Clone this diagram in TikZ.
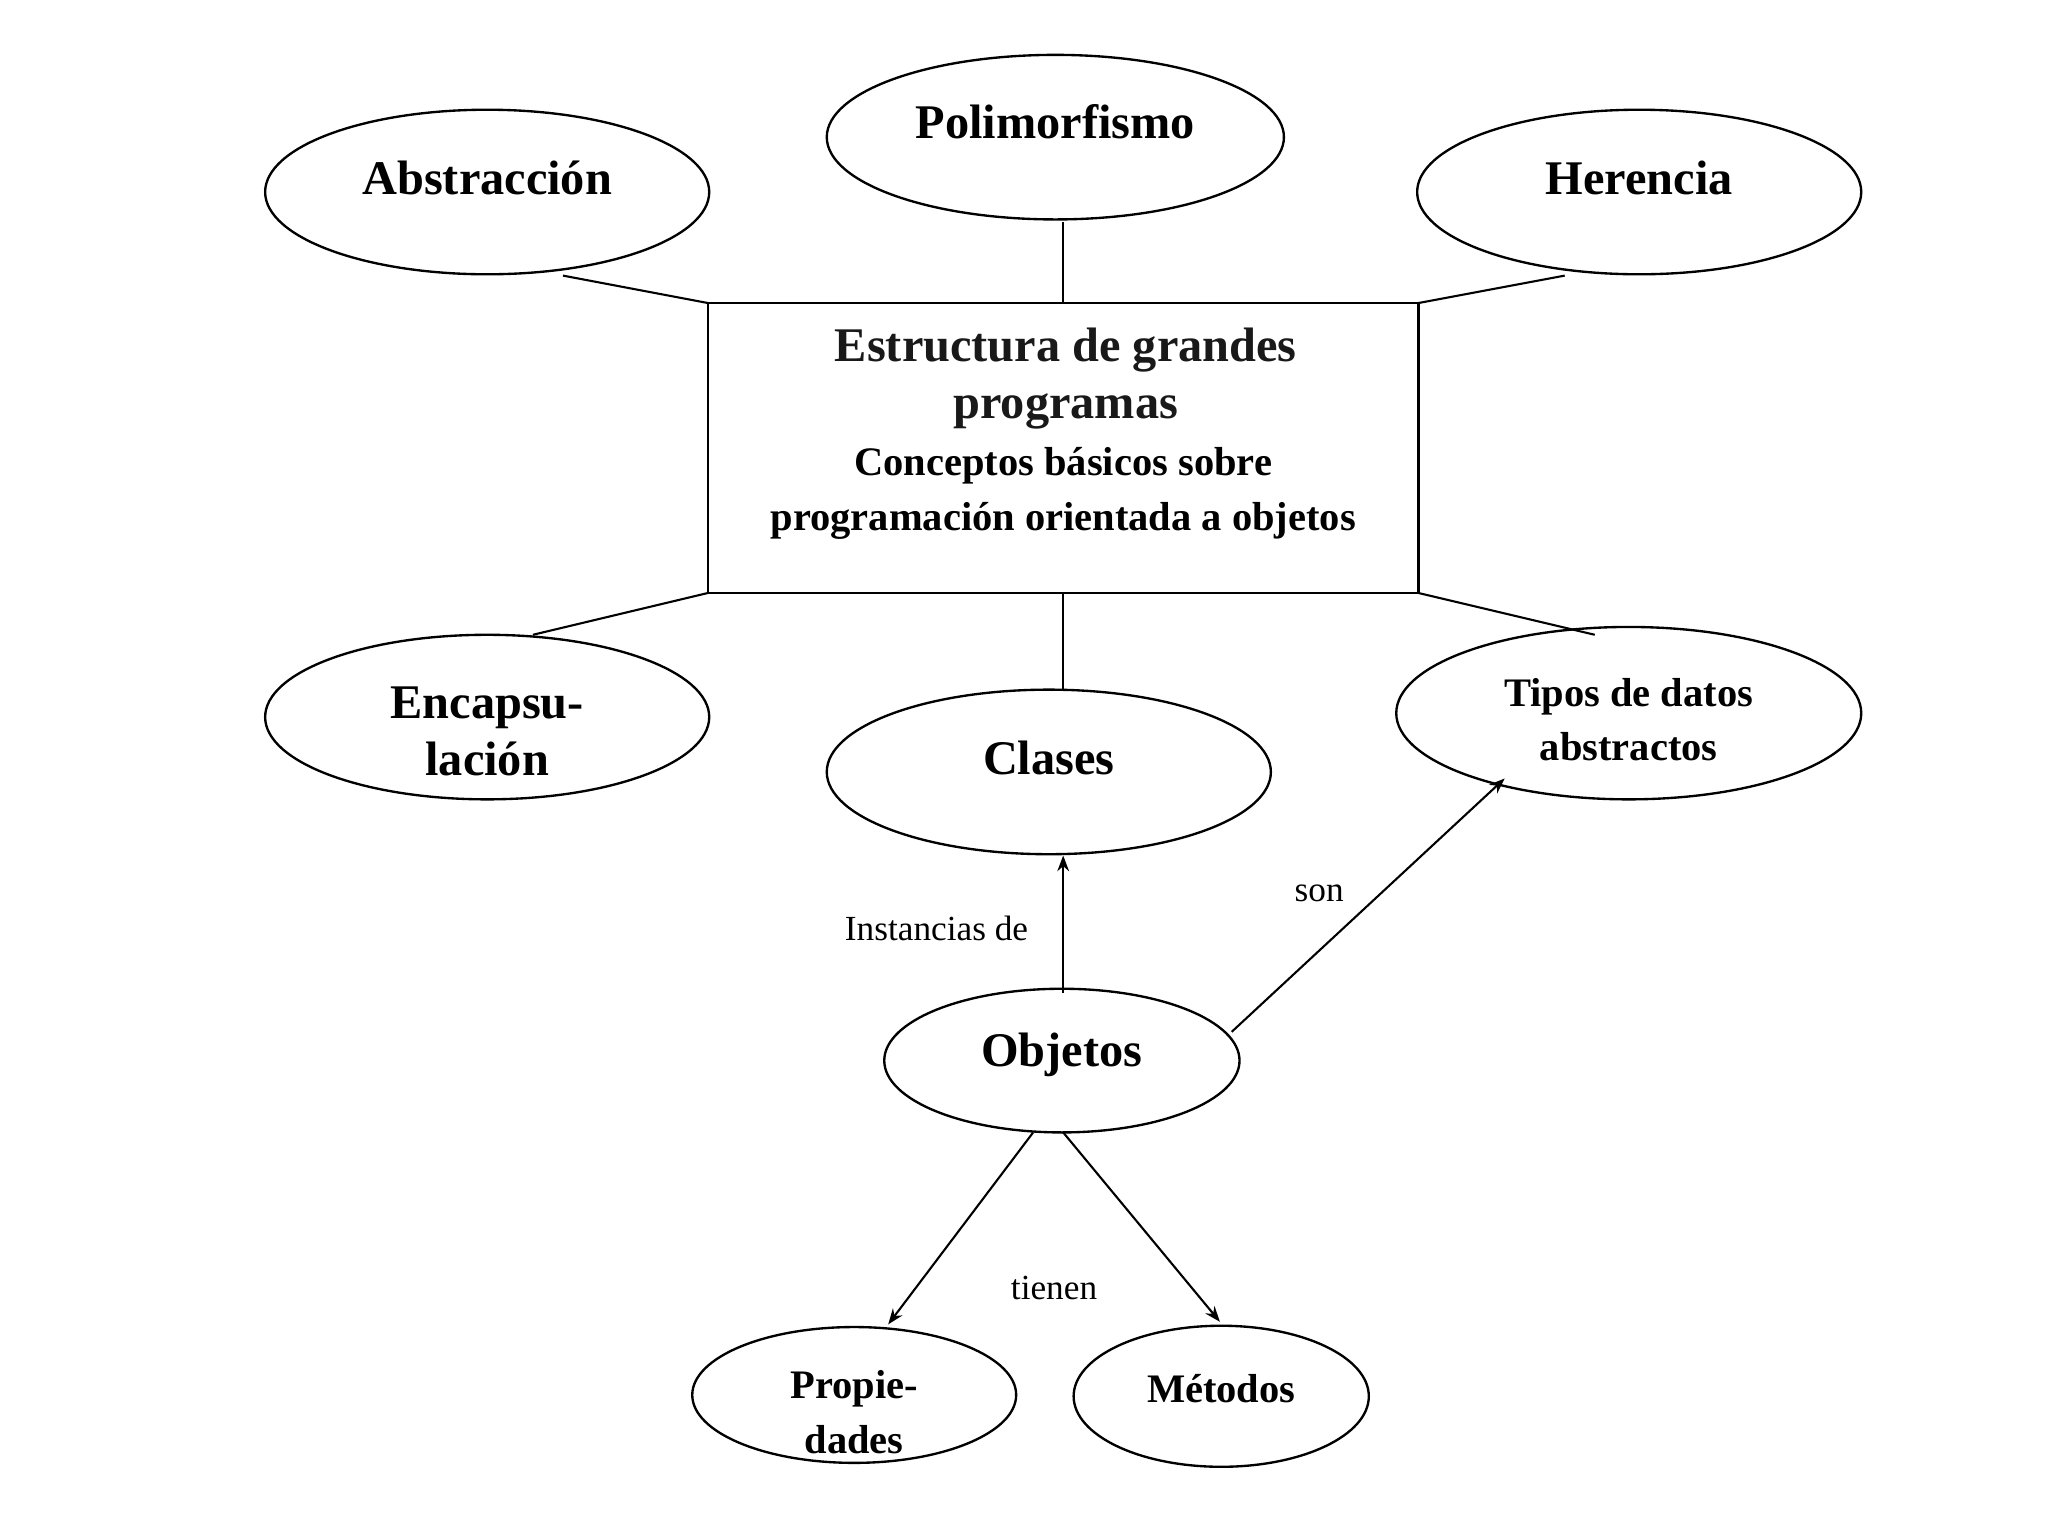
\documentclass[tikz,border=0pt]{standalone}
\usepackage{fontspec}
\setmainfont{Liberation Serif}
\usetikzlibrary{shapes.geometric,arrows.meta}
\begin{document}
\begin{tikzpicture}[x=1pt,y=-1pt,
  ell/.style={draw,ellipse,line width=1.8pt,inner sep=0pt},
  con/.style={line width=1.6pt},
  arr/.style={line width=1.6pt,-{Stealth[length=12pt,width=9pt]}},
  big/.style={font=\bfseries\fontsize{37}{44}\selectfont,align=center},
  mid/.style={font=\bfseries\fontsize{31}{42}\selectfont,align=center},
  lab/.style={font=\fontsize{27}{32}\selectfont}]
\useasboundingbox (0,0) rectangle (1568,1176);
\node[ell,minimum width=340,minimum height=126] (abs) at (373,147) {};
\node[big] at (373,136) {Abstracción};
\node[ell,minimum width=350,minimum height=126] (pol) at (808,105) {};
\node[big] at (808,93) {Polimorfismo};
\node[ell,minimum width=340,minimum height=126] (her) at (1255,147) {};
\node[big] at (1255,136) {Herencia};
\node[draw,line width=1.6pt,minimum width=544,minimum height=222] (box) at (814,343) {};
\node[big,text=black!90] at (816,290) {Estructura de grandes\\programas};
\node[mid] at (814,378) {Conceptos básicos sobre\\programación orientada a objetos};
\node[ell,minimum width=340,minimum height=126] (enc) at (373,549) {};
\node[big] at (373,560) {Encapsu-\\lación};
\node[ell,minimum width=340,minimum height=126] (cla) at (803,591) {};
\node[big] at (803,580) {Clases};
\node[ell,minimum width=356,minimum height=132] (tip) at (1247,546) {};
\node[mid] at (1247,551) {Tipos de datos\\abstractos};
\node[ell,minimum width=272,minimum height=110] (obj) at (813,812) {};
\node[big] at (813,808) {Objetos};
\node[ell,minimum width=248,minimum height=104] (pro) at (654,1068) {};
\node[mid] at (654,1081) {Propie-\\dades};
\node[ell,minimum width=226,minimum height=108] (met) at (935,1069) {};
\node[mid] at (935,1063) {Métodos};
\coordinate (a1) at (431,211); \coordinate (b1) at (542,232);
\coordinate (a2) at (814,170); \coordinate (b2) at (814,232);
\coordinate (a3) at (1198,211); \coordinate (b3) at (1086,232);
\coordinate (a4) at (408,486); \coordinate (b4) at (542,454);
\coordinate (a5) at (814,528); \coordinate (b5) at (814,454);
\coordinate (a6) at (1221,486); \coordinate (b6) at (1086,454);
\foreach \i in {1,...,6} \draw[con] (a\i) -- (b\i);
\coordinate (o1) at (814,760); \coordinate (c1) at (814,655);
\coordinate (o2) at (943,790); \coordinate (c2) at (1152,596);
\coordinate (o3) at (791,867); \coordinate (c3) at (680,1014);
\coordinate (o4) at (814,867); \coordinate (c4) at (934,1012);
\foreach \i in {1,...,4} \draw[arr] (o\i) -- (c\i);
\node[lab] at (717,711) {Instancias de};
\node[lab] at (1010,684) {son};
\node[lab] at (807,986) {tienen};
\end{tikzpicture}
\end{document}
